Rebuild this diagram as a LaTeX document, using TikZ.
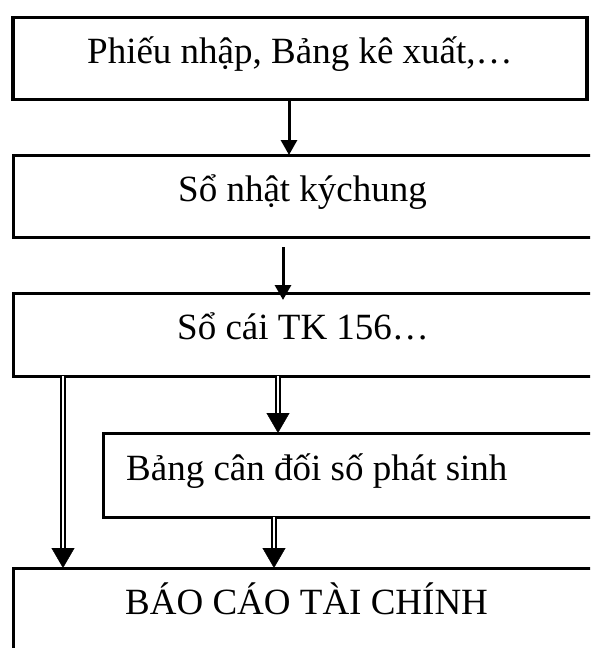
\documentclass[tikz,border=0pt]{standalone}
\usepackage{fontspec}
\setmainfont{Liberation Serif}
\usetikzlibrary{arrows.meta}
\tikzset{
  box/.style={draw, line width=3pt, rectangle, inner sep=0pt, outer sep=0pt, anchor=north west},
  lbl/.style={inner sep=0pt, anchor=base west, font=\fontsize{37}{44}\selectfont},
  arr/.style={line width=3pt, -{Triangle[length=15pt,width=16pt]}},
  dbl/.style={double, double distance=2.2pt, line width=1.6pt},
  dtip/.style={line width=0.4pt, -{Triangle[length=20pt,width=23pt]}}
}
\begin{document}
\begin{tikzpicture}[x=1pt,y=-1pt]
\useasboundingbox (0,0) rectangle (590,648);
\clip (0,0) rectangle (590,648);

% boxes
\node[box, line width=3.5pt, minimum width=574pt, minimum height=82pt] (b1) at (13,17.5) {};
\node[box, minimum width=620pt, minimum height=82pt] (b2) at (13,155) {};
\node[box, minimum width=620pt, minimum height=83pt] (b3) at (13,293) {};
\node[box, minimum width=530pt, minimum height=84pt] (b4) at (103,433) {};
\node[box, minimum width=620pt, minimum height=150pt] (b5) at (13,568) {};

% labels
\node[lbl] (t1) at (87,63) {Phiếu nhập, Bảng kê xuất,…};
\node[lbl] (t2) at (178,201) {Sổ nhật kýchung};
\node[lbl] (t3) at (177,339) {Sổ cái TK 156…};
\node[lbl] (t4) at (126,480) {Bảng cân đối số phát sinh};
\node[lbl] (t5) at (125,614) {BÁO CÁO TÀI CHÍNH};

% connector columns
\coordinate (c1) at (289,0);
\coordinate (c2) at (283,0);
\coordinate (c3) at (278,0);
\coordinate (c4) at (274,0);
\coordinate (c5) at (63,0);

% single arrows
\draw[arr] (b1.south -| c1) -- (b2.north -| c1);
\draw[arr] ([yshift=-10pt]b2.south -| c2) -- ([yshift=-7pt]b3.north -| c2);

% double arrows: shaft, then head
\draw[dbl] (b3.south -| c3) -- ([yshift=19pt]b4.north -| c3);
\draw[dtip] ([yshift=20pt]b4.north -| c3) -- (b4.north -| c3);

\draw[dbl] (b4.south -| c4) -- ([yshift=19pt]b5.north -| c4);
\draw[dtip] ([yshift=20pt]b5.north -| c4) -- (b5.north -| c4);

\draw[dbl] (b3.south -| c5) -- ([yshift=19pt]b5.north -| c5);
\draw[dtip] ([yshift=20pt]b5.north -| c5) -- (b5.north -| c5);
\end{tikzpicture}
\end{document}
